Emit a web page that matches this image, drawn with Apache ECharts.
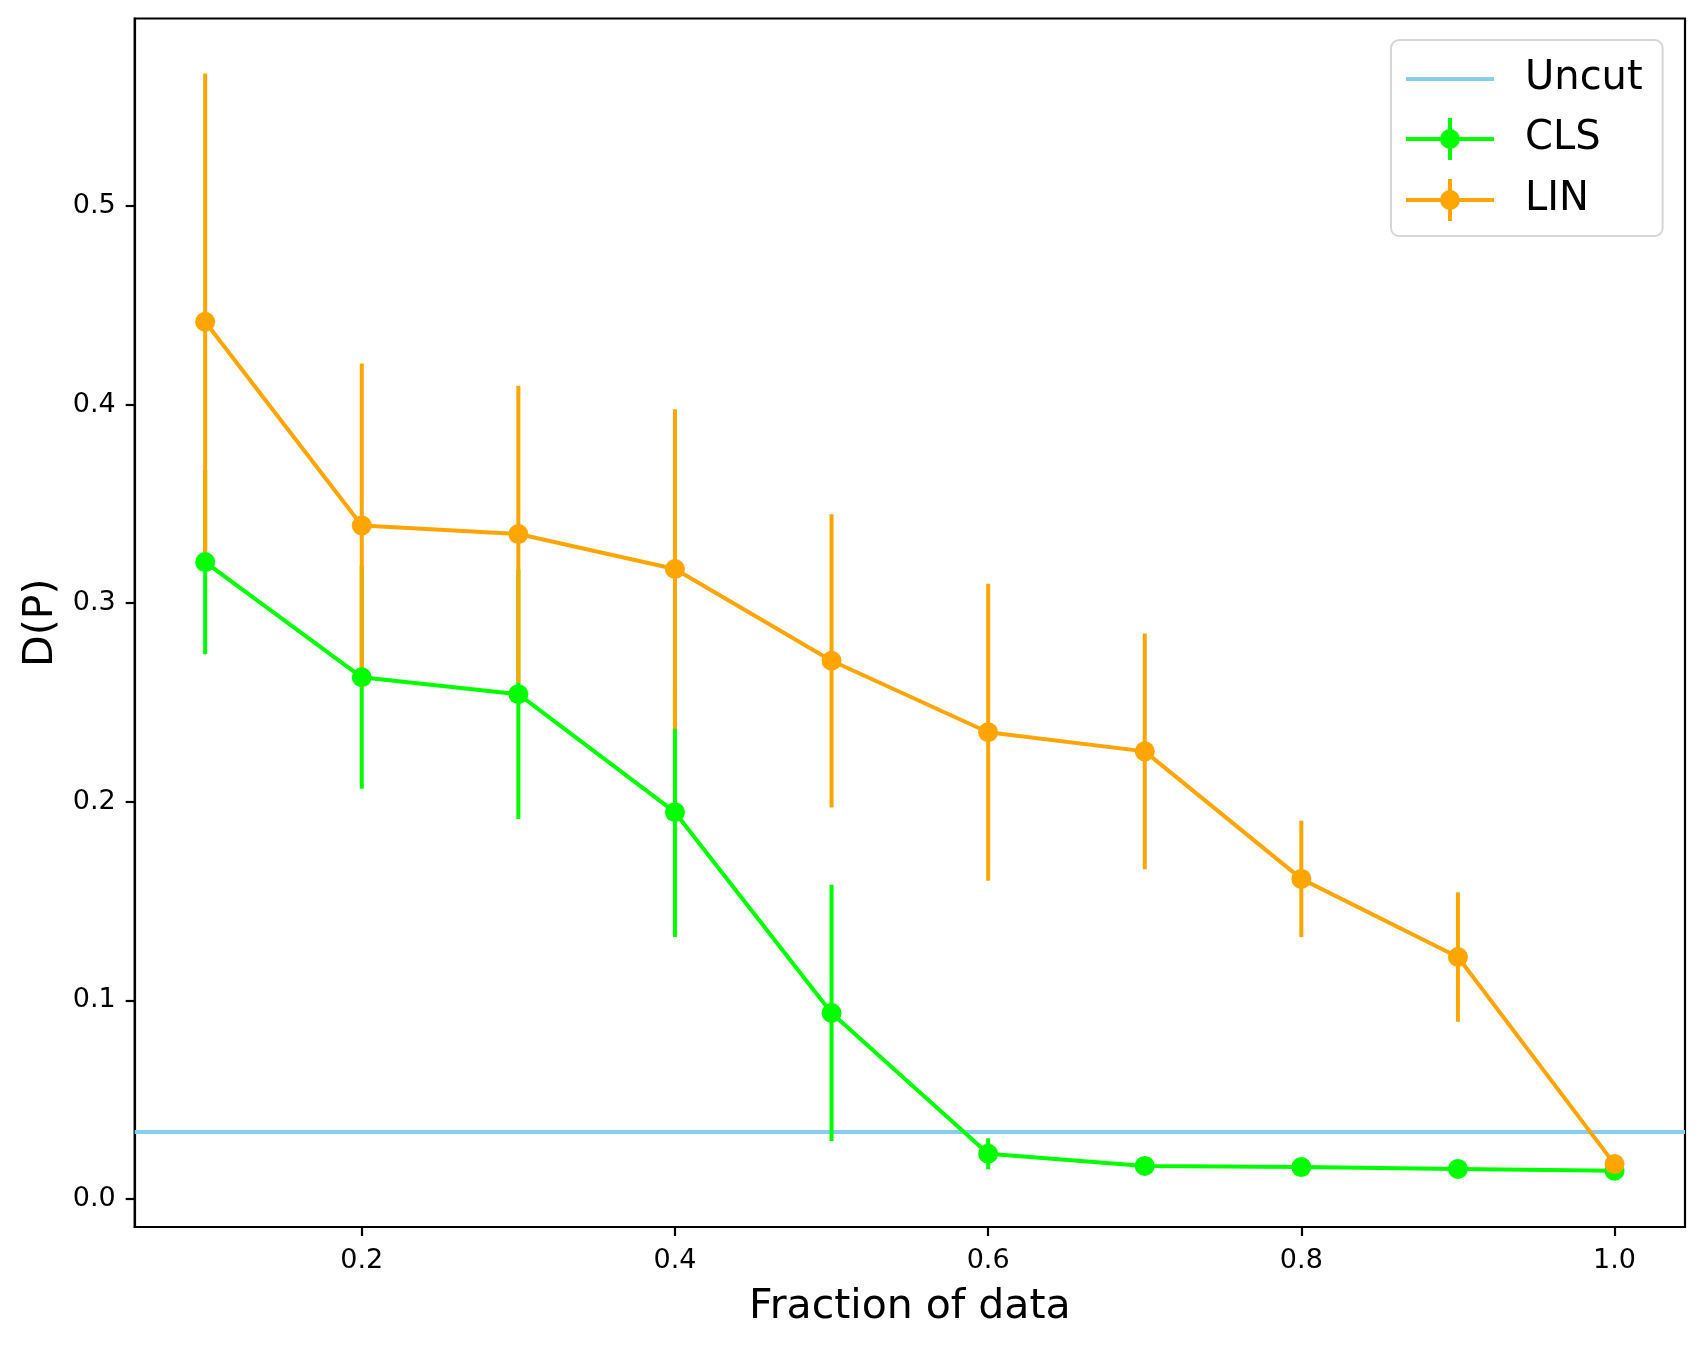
<!DOCTYPE html>
<html><head><meta charset="utf-8">
<script src="https://cdn.jsdelivr.net/npm/echarts@6/dist/echarts.min.js"></script>
<style>html,body{margin:0;padding:0;background:#fff}#c{width:1704px;height:1346px}</style>
</head><body><div id="c"></div>
<script>
// ---- data ----
const fractions = [0.1, 0.2, 0.3, 0.4, 0.5, 0.6, 0.7, 0.8, 0.9, 1.0];
const clsMean = [0.3207, 0.2627, 0.2542, 0.1948, 0.0937, 0.0228, 0.0167, 0.0161, 0.0152, 0.0143];
const clsErr  = [0.0464, 0.0561, 0.0628, 0.0628, 0.0645, 0.0078, 0.0020, 0.0015, 0.0010, 0.0007];
const linMean = [0.4417, 0.3391, 0.3348, 0.3172, 0.2710, 0.2350, 0.2254, 0.1612, 0.1219, 0.0176];
const linErr  = [0.1250, 0.0816, 0.0747, 0.0804, 0.0738, 0.0748, 0.0594, 0.0293, 0.0326, 0.0030];
const uncutValue = 0.034;
const xTicks = [0.2, 0.4, 0.6, 0.8, 1.0];
const yTicks = [0.0, 0.1, 0.2, 0.3, 0.4, 0.5];
const seriesNames = ['Uncut', 'CLS', 'LIN'];

// ---- axis ranges (matplotlib-style 5% margins) ----
const xLo = Math.min(...fractions), xHi = Math.max(...fractions);
const xMin = xLo - 0.05 * (xHi - xLo), xMax = xHi + 0.05 * (xHi - xLo);
const allLo = clsMean.map((m, i) => m - clsErr[i]).concat(linMean.map((m, i) => m - linErr[i]), [uncutValue]);
const allHi = clsMean.map((m, i) => m + clsErr[i]).concat(linMean.map((m, i) => m + linErr[i]), [uncutValue]);
const yLo = Math.min(...allLo), yHi = Math.max(...allHi);
const yMin = yLo - 0.05 * (yHi - yLo), yMax = yHi + 0.05 * (yHi - yLo);

const FONT = 'DejaVu Sans';
const C_CLS = '#00ff00', C_LIN = '#ffa500', C_UNCUT = '#87ceeb';
const LW = 4;

function errSeries(name, means, errs, color) {
  return {
    type: 'custom', name: name + ' err', silent: true, z: 2,
    data: fractions.map((x, i) => [x, means[i] - errs[i], means[i] + errs[i]]),
    encode: { x: 0, y: [1, 2] },
    renderItem: (params, api) => {
      const p1 = api.coord([api.value(0), api.value(1)]);
      const p2 = api.coord([api.value(0), api.value(2)]);
      return { type: 'line', shape: { x1: p1[0], y1: p1[1], x2: p2[0], y2: p2[1] },
               style: { stroke: color, lineWidth: LW } };
    }
  };
}
function lineSeries(name, means, color) {
  return {
    type: 'line', name: name, z: 2,
    data: fractions.map((x, i) => [x, means[i]]),
    symbol: 'circle', symbolSize: 20, showSymbol: true,
    lineStyle: { color: color, width: LW },
    itemStyle: { color: color, borderWidth: 0 },
    emphasis: { disabled: true }
  };
}

const errIcon = 'path://M0,19H88V23H0Z M42,0H46V42H42Z M34,21A10,10 0 1 1 54,21A10,10 0 1 1 34,21Z';
const lineIcon = 'path://M0,19H88V23H0Z';

const axisCommon = {
  type: 'value',
  axisLine: { show: true, onZero: false, lineStyle: { color: '#000', width: 2.2 } },
  splitLine: { show: false },
  nameLocation: 'middle'
};

const option = {
  animation: false,
  backgroundColor: '#fff',
  grid: { left: 134.7, right: 19, top: 18.5, bottom: 119, show: true,
          borderColor: '#000', borderWidth: 2.2, backgroundColor: 'transparent' },
  xAxis: Object.assign({}, axisCommon, {
    min: xMin, max: xMax,
    axisTick: { show: true, length: 9, lineStyle: { color: '#000', width: 2.2 }, customValues: xTicks },
    axisLabel: { customValues: xTicks, formatter: v => v.toFixed(1), fontSize: 27, color: '#000',
                 fontFamily: FONT, margin: 20 },
    name: 'Fraction of data', nameGap: 60,
    nameTextStyle: { fontSize: 41, color: '#000', fontFamily: FONT }
  }),
  yAxis: Object.assign({}, axisCommon, {
    min: yMin, max: yMax,
    axisTick: { show: true, length: 9, lineStyle: { color: '#000', width: 2.2 }, customValues: yTicks },
    axisLabel: { customValues: yTicks, formatter: v => v.toFixed(1), fontSize: 27, color: '#000',
                 fontFamily: FONT, margin: 19, padding: [5, 0, 0, 0] },
    name: 'D(P)', nameGap: 71,
    nameTextStyle: { fontSize: 41, color: '#000', fontFamily: FONT }
  }),
  legend: {
    orient: 'vertical', left: 1391, top: 40,
    padding: [19, 20, 15, 15], itemGap: 19, itemWidth: 88, itemHeight: 42,
    backgroundColor: '#fff', borderColor: '#d6d6d6', borderWidth: 2, borderRadius: 8,
    itemStyle: { borderWidth: 0 },
    textStyle: { fontSize: 40, color: '#000', fontFamily: FONT, padding: [0, 0, 0, 26] },
    selectedMode: false,
    data: [
      { name: seriesNames[0], icon: lineIcon },
      { name: seriesNames[1], icon: errIcon },
      { name: seriesNames[2], icon: errIcon }
    ]
  },
  series: [
    {
      type: 'line', name: seriesNames[0], data: [], z: 1,
      symbol: 'none',
      lineStyle: { color: C_UNCUT, width: LW }, itemStyle: { color: C_UNCUT, borderWidth: 0 },
      markLine: { silent: true, symbol: ['none', 'none'], label: { show: false }, z: 1, precision: 6,
                  lineStyle: { color: C_UNCUT, width: LW, type: 'solid' },
                  emphasis: { disabled: true },
                  data: [{ yAxis: uncutValue }] }
    },
    errSeries(seriesNames[1], clsMean, clsErr, C_CLS),
    lineSeries(seriesNames[1], clsMean, C_CLS),
    errSeries(seriesNames[2], linMean, linErr, C_LIN),
    lineSeries(seriesNames[2], linMean, C_LIN)
  ]
};
const chart = echarts.init(document.getElementById('c'));
chart.setOption(option);
</script>
</body></html>
